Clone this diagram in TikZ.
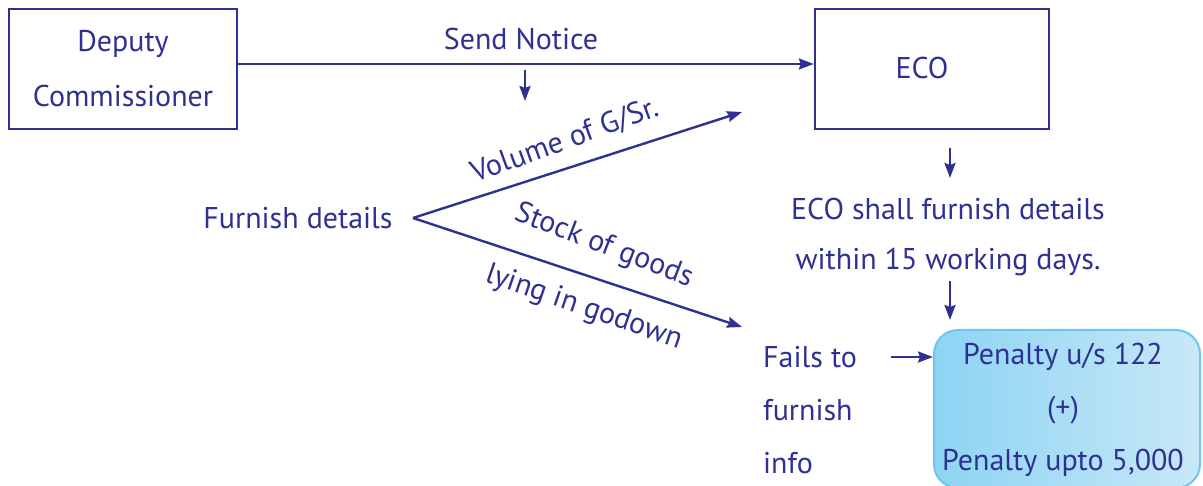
\documentclass[tikz,border=0pt]{standalone}
\usepackage{fontspec}
\setmainfont{PT Sans}
\usetikzlibrary{arrows.meta}
\definecolor{navy}{HTML}{2E3192}
\definecolor{boxl}{HTML}{8DD4F3}
\definecolor{boxr}{HTML}{C8E8F7}
\definecolor{boxb}{HTML}{6CC7EE}
\tikzset{
  txt/.style={text=navy, font=\fontsize{30}{34}\selectfont, inner sep=0pt},
  frame/.style={draw=navy, line width=2.4pt, inner sep=0pt},
  conn/.style={draw=navy, line width=2.4pt, -{Stealth[length=15pt,width=11pt,inset=2pt]}},
}
\begin{document}
\begin{tikzpicture}[x=1pt,y=-1pt]
\useasboundingbox (0,0) rectangle (1203,486);
% boxes
\node[frame, minimum width=228pt, minimum height=120pt] (dc) at (123,69) {};
\node[txt] (dc1) at (123,44) {Deputy};
\node[txt] (dc2) at (123,96) {Commissioner};
\node[frame, minimum width=234pt, minimum height=120pt] (eco) at (932,69) {};
\node[txt] (ecot) at (922,68) {ECO};
% send notice
\draw[conn] (dc.east |- 0,64) -- (eco.west |- 0,64);
\node[txt] (send) at (521,39) {Send Notice};
\coordinate (sn1) at (525,70);
\coordinate (sn2) at (525,101);
\draw[conn] (sn1) -- (sn2);
% furnish details
\node[txt] (fd) at (298,218) {Furnish details};
\coordinate (fork) at (413,218);
\coordinate (up) at (742,112);
\coordinate (dn) at (742,327);
\draw[conn] (fork) -- (up);
\draw[conn] (fork) -- (dn);
\node[txt, rotate=20] (vol) at (565,141) {Volume of G/Sr.};
\node[txt, rotate=-21] (stock) at (604,246) {Stock of goods};
\node[txt, rotate=-19] (lying) at (584,308) {lying in godown};
% ECO branch
\coordinate (e1) at (950,148);
\coordinate (e2) at (950,178);
\draw[conn] (e1) -- (e2);
\node[txt] (sh1) at (948,209) {ECO shall furnish details};
\node[txt] (sh2) at (948,262) {within 15 working days.};
\coordinate (e3) at (950,281);
\coordinate (e4) at (950,320);
\draw[conn] (e3) -- (e4);
% penalty box
\node[draw=boxb, line width=2pt, rounded corners=24pt, left color=boxl, right color=boxr,
      minimum width=266pt, minimum height=158pt, inner sep=0pt] (pen) at (1067,409) {};
\node[txt] (p1) at (1063,357) {Penalty u/s 122};
\node[txt] (p2) at (1063,410) {(+)};
\node[txt] (p3) at (1063,463) {Penalty upto 5,000};
% fails to furnish
\node[txt, anchor=west] (f1) at (763,357) {Fails to};
\node[txt, anchor=west] (f2) at (763,410) {furnish};
\node[txt, anchor=west] (f3) at (763,463) {info};
\coordinate (fa) at (891,357);
\draw[conn] (fa) -- (pen.west |- fa);
\end{tikzpicture}
\end{document}
